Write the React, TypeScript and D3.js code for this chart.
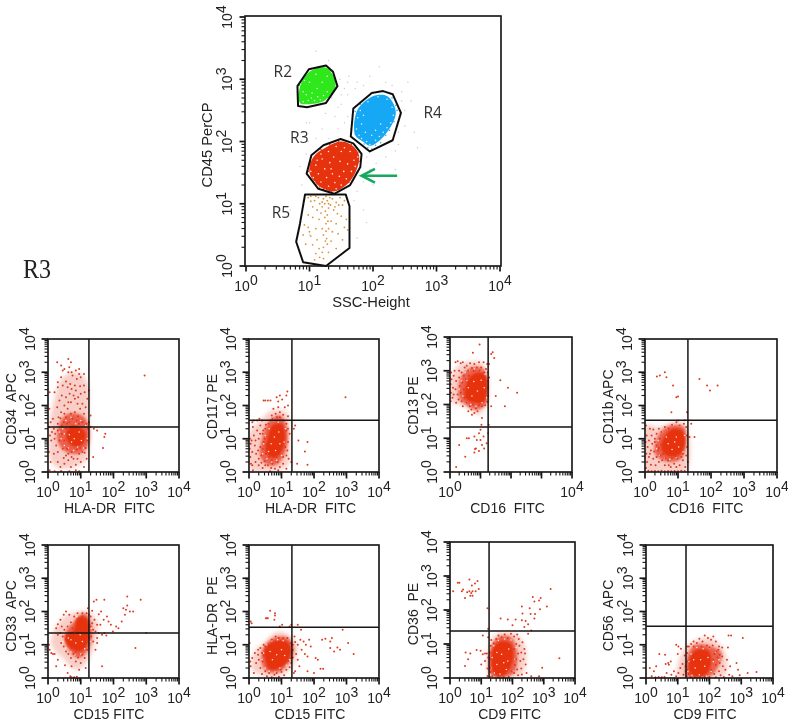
import React from "react";
import * as d3 from "d3";

type P = number[];
// All values are log10 intensity (decades 0..4).
const DECADES = [0, 1, 2, 3, 4];

const gateR2: P[] = [[.81,2.89],[.99,3.16],[1.26,3.22],[1.37,3.12],[1.44,2.89],[1.26,2.62],[.96,2.55],[.82,2.57]];
const gateR3: P[] = [[.955,1.485],[1.03,1.78],[1.22,1.94],[1.49,2.04],[1.69,1.97],[1.82,1.80],[1.80,1.59],[1.64,1.30],[1.39,1.16],[1.14,1.24]];
const gateR4: P[] = [[1.65,2.08],[1.69,2.53],[1.98,2.78],[2.16,2.81],[2.31,2.76],[2.44,2.46],[2.31,2.02],[1.95,1.84],[1.80,1.96]];
const gateR5: P[] = [[.93,1.15],[1.57,1.15],[1.63,.96],[1.63,.29],[1.26,0],[.90,.06],[.79,.39],[.85,.68]];

const coreR2: P[] = [[.85,2.88],[1.0,3.12],[1.25,3.19],[1.35,3.1],[1.41,2.89],[1.24,2.66],[.97,2.6],[.85,2.62]];
const coreR3: P[] = [[1.0,1.5],[1.06,1.75],[1.25,1.9],[1.5,2.0],[1.68,1.93],[1.78,1.78],[1.76,1.6],[1.62,1.34],[1.4,1.2],[1.17,1.27]];
const coreR4: P[] = [[1.72,2.1],[1.75,2.5],[1.98,2.72],[2.15,2.75],[2.26,2.7],[2.36,2.46],[2.2,2.12],[1.96,1.93],[1.84,2.0]];

const specksR2: P[] = [[.9,2.64],[.98,2.66],[1.03,2.7],[1.08,2.66],[1.13,2.72],[1.17,2.67],[1.22,2.74],[.95,2.75],[.9,2.8],[1.04,2.78],[1.28,2.8],[1.12,2.85],[1.2,2.95],[1.0,2.95],[.92,2.98],[1.28,3.05],[1.1,3.08]];
const specksR3: P[] = [[1.02,1.52],[1.06,1.42],[1.1,1.62],[1.14,1.48],[1.18,1.35],[1.2,1.72],[1.24,1.56],[1.27,1.42],[1.3,1.28],[1.32,1.66],[1.36,1.48],[1.4,1.34],[1.42,1.24],[1.47,1.44],[1.5,1.3],[1.54,1.52],[1.58,1.4],[1.6,1.64],[1.66,1.52],[1.7,1.7],[1.72,1.6],[1.64,1.84],[1.55,1.9],[1.42,1.92],[1.3,1.84],[1.18,1.8],[1.12,1.7],[1.38,1.75],[1.48,1.68],[1.25,1.22],[1.08,1.35],[1.5,1.84],[1.34,1.56],[1.76,1.75]];
const specksR4: P[] = [[1.74,2.2],[1.76,2.38],[1.78,2.1],[1.82,2.28],[1.82,2.05],[1.88,2.15],[1.9,2.0],[1.95,1.95],[1.98,2.1],[2.04,2.02],[2.1,2.08],[2.16,2.15],[2.22,2.22],[2.28,2.3],[2.32,2.42],[2.3,2.55],[2.22,2.68],[2.08,2.72],[1.92,2.64],[1.8,2.5],[1.85,2.42],[2.04,2.18],[2.12,2.28]];
const dotsR2: P[] = [[.85,2.66],[.84,2.78],[.84,2.9],[.92,3.05],[1.3,2.72],[1.34,2.8],[1.4,2.95],[1.33,3.14],[1.12,3.18],[.98,3.14]];
const dotsR3: P[] = [[.98,1.52],[1.02,1.66],[1.0,1.42],[1.08,1.72],[1.1,1.3],[1.16,1.27],[1.22,1.23],[1.34,1.19],[1.48,1.25],[1.62,1.34],[1.68,1.45],[1.74,1.5],[1.78,1.68],[1.76,1.82],[1.66,1.95],[1.56,1.98],[1.46,2.0],[1.32,1.95],[1.18,1.87]];
const dotsR4: P[] = [[1.72,2.12],[1.71,2.3],[1.72,2.48],[1.8,2.6],[1.86,1.96],[1.92,1.9],[1.98,1.88],[2.04,1.94],[2.12,1.98],[2.2,2.1],[2.26,2.18],[2.33,2.32],[2.38,2.5],[2.36,2.58],[2.3,2.7]];
const dotsR5: P[] = [[1.02,1.12],[1.08,1.05],[1.14,1.1],[1.2,1.03],[1.26,1.12],[1.3,1.0],[1.36,1.08],[1.42,1.02],[1.48,1.1],[1.52,.98],[1.05,.95],[1.12,.9],[1.2,.95],[1.25,.88],[1.3,.93],[1.38,.9],[1.44,.84],[1.5,.8],[1.58,.75],[.98,.82],[1.05,.78],[1.15,.75],[1.24,.78],[1.34,.72],[1.42,.68],[1.55,.62],[.92,.66],[.98,.62],[1.1,.6],[1.2,.6],[1.26,.56],[1.3,.6],[1.45,.52],[1.6,.58],[.9,.5],[1.02,.48],[1.12,.42],[1.22,.5],[1.27,.44],[1.34,.4],[.94,.35],[1.05,.34],[1.15,.28],[1.22,.3],[1.28,.35],[1.42,.28],[1.1,.2],[1.16,.14],[1.22,.12],[1.08,.1],[1.3,.22],[1.52,.42],[1.16,1.0],[1.22,1.08],[1.28,1.05],[1.33,.98],[1.32,1.1],[1.24,1.0],[1.18,.85],[1.28,.82],[1.02,1.04],[.98,1.1],[1.1,1.12],[1.4,.95],[1.46,.98],[1.55,1.05],[1.26,.68],[1.29,.72],[1.25,.4],[1.2,.22],[1.0,.55],[1.36,.55]];
const dotsGray: P[] = [[1.0,2.3],[1.2,2.2],[1.4,2.4],[1.5,2.6],[1.55,2.85],[1.62,3.05],[1.75,2.95],[1.95,3.05],[2.1,3.2],[2.2,2.95],[1.48,3.0],[1.3,3.3],[1.1,3.45],[.95,2.3],[.75,2.15],[1.1,2.05],[1.3,2.05],[1.45,2.2],[1.55,2.3],[2.45,2.8],[2.6,2.65],[2.5,2.25],[2.65,2.15],[2.4,1.95],[2.55,2.95],[2.2,1.75],[2.05,1.65],[1.9,1.5],[1.85,1.35],[2.0,1.3],[1.75,1.2],[1.7,1.05],[1.85,.9],[1.9,.7],[1.75,.45],[.9,1.05],[.88,1.3],[.95,1.8],[.98,2.0],[.7,.9],[2.7,1.9],[2.35,1.55],[1.6,2.95],[1.35,2.7],[1.5,2.75],[1.0,.5],[1.6,2.4],[1.45,2.55],[1.25,2.45],[1.6,2.75],[1.72,2.85],[1.85,2.9],[2.3,2.9],[2.45,2.65],[2.5,2.5],[2.4,2.15],[2.35,1.85],[1.9,1.75],[1.95,1.55],[.85,1.6],[.9,2.15],[1.65,2.2]];

const arrowLine: P[] = [[2.38,1.45],[1.85,1.45]];
const arrowHead: P[] = [[2.03,1.56],[1.82,1.45],[2.03,1.34]];
const gateNames = ["R2","R3","R4","R5"];
const gateLabelAt: P[] = [[.58,3.04],[.84,1.98],[2.94,2.38],[.55,.77]];

const wide1: P[] = [[.1,.3],[.05,1.4],[.2,2.2],[.45,2.85],[.85,3.0],[1.2,2.7],[1.25,1.8],[1.27,1.0],[1.2,.4],[.8,.15],[.4,.1]];
const mid1: P[] = [[.3,.9],[.35,1.45],[.6,1.75],[1.05,1.7],[1.25,1.35],[1.22,.8],[.95,.55],[.55,.6]];
const core1: P[] = [[.55,1.05],[.68,1.38],[1.0,1.33],[1.15,1.15],[1.05,.82],[.75,.78]];
const specks1: P[] = [[.4,1.0],[.45,1.3],[.5,.8],[.55,1.55],[.62,.72],[.7,1.65],[.78,.65],[.85,1.45],[.9,.75],[1.0,1.55],[1.08,.72],[1.15,1.4],[1.2,1.0],[.65,1.12],[.8,1.0],[.95,1.2],[.72,.9],[1.02,.95],[.35,1.2],[.5,1.15]];
const pts1: P[] = [[.05,2.4],[.04,1.9],[.08,1.5],[.03,1.35],[.06,1.1],[.1,.95],[.03,.6],[.08,.3],[.05,.05],[.2,.02],[.4,.03],[.65,.02],[.85,.05],[.95,.02],[.15,1.6],[.18,1.3],[.12,1.2],[.2,1.0],[.25,.8],[.18,.55],[.3,.3],[.38,.15],[.5,.25],[.55,.5],[.62,.35],[.7,.15],[.78,.4],[.85,.22],[1.0,.3],[1.1,.15],[1.18,.4],[.95,.55],[.45,.7],[.35,.95],[.42,1.15],[.3,1.25],[.5,.95],[.58,.7],[.72,.6],[.88,.68],[1.05,.6],[1.15,.72],[1.2,.95],[.3,1.45],[.42,1.4],[.55,1.3],[.48,1.5],[.32,1.65],[.4,1.8],[.55,1.65],[.65,1.5],[.75,1.6],[.88,1.55],[1.05,1.5],[1.18,1.45],[1.22,1.3],[1.3,1.35],[1.4,1.3],[1.5,1.25],[1.75,1.15],[1.72,1.05],[1.68,.72],[1.38,.45],[1.3,1.7],[1.25,1.5],[.6,1.9],[.7,1.75],[.82,1.8],[.92,1.68],[1.1,1.75],[.98,1.9],[.62,2.1],[.5,2.0],[.35,2.15],[.28,1.95],[.42,2.3],[.55,2.25],[.7,2.1],[.82,2.2],[.9,2.05],[1.05,2.05],[1.15,1.95],[1.2,2.2],[1.25,2.45],[1.12,2.4],[1.0,2.35],[.85,2.45],[.72,2.5],[.6,2.55],[.45,2.6],[.3,2.55],[.2,2.4],[.4,2.85],[.55,2.72],[.68,2.65],[.82,2.6],[.98,2.58],[1.1,2.6],[1.0,2.85],[.88,2.8],[.75,2.9],[.62,3.0],[.5,3.1],[.72,3.0],[.85,3.05],[.95,3.1],[.65,3.15],[.7,3.3],[.62,3.4],[.28,3.3],[.4,3.2],[.45,3.05],[.95,2.95],[1.1,2.95],[2.95,2.9],[.3,2.7],[.5,1.75],[.78,2.3],[.66,2.35],[.92,2.25],[.38,1.62],[.58,1.45],[.95,1.45],[.22,1.15],[.98,.72],[1.12,.58],[.62,.55],[.72,.45],[.48,.42],[.3,.6],[.9,.4]];
const wide2: P[] = [[.05,.1],[.02,1.2],[.3,1.5],[.7,1.85],[1.15,1.8],[1.25,1.0],[1.2,.2],[.7,.02]];
const mid2: P[] = [[.35,.45],[.4,1.0],[.6,1.5],[.95,1.7],[1.18,1.3],[1.15,.7],[.9,.25],[.6,.2]];
const core2: P[] = [[.52,.6],[.58,1.05],[.72,1.4],[1.0,1.45],[1.12,1.1],[1.02,.65],[.75,.42]];
const specks2: P[] = [[.42,.55],[.45,.85],[.5,1.1],[.55,.4],[.62,1.3],[.7,.3],[.75,1.55],[.85,.35],[.9,1.5],[1.0,.5],[1.08,.9],[1.12,1.3],[.68,.85],[.82,.65],[.78,1.05],[.92,1.2],[.95,.85],[.6,.62]];
const pts2: P[] = [[.03,1.0],[.05,.85],[.02,.7],[.08,.95],[.1,.6],[.04,.45],[.06,.25],[.12,.05],[.2,.3],[.22,.55],[.18,.8],[.15,1.1],[.25,1.25],[.12,1.35],[.3,1.0],[.35,.75],[.38,.5],[.3,.2],[.42,.12],[.48,.32],[.52,.55],[.58,.2],[.65,.02],[.72,.25],[.8,.1],[.88,.3],[.95,.15],[1.05,.25],[1.15,.1],[1.22,.4],[1.18,.65],[1.2,.9],[1.25,1.15],[1.2,1.3],[1.15,1.45],[1.05,1.55],[.95,1.65],[.85,1.55],[.72,1.6],[.6,1.45],[.5,1.3],[.42,1.15],[.45,.9],[.35,1.4],[.25,1.55],[.15,1.55],[.1,1.5],[.32,1.6],[.4,1.55],[.7,1.7],[.82,1.75],[.95,1.8],[1.05,1.72],[1.2,1.68],[.9,1.95],[.75,1.9],[1.1,1.95],[1.2,2.0],[.9,2.12],[.85,2.25],[.95,2.3],[1.02,2.18],[1.15,2.3],[1.18,2.42],[.45,2.15],[.5,2.15],[.58,2.15],[.66,2.15],[1.42,1.4],[1.38,1.3],[1.52,.95],[1.8,.9],[1.72,.62],[1.8,.22],[1.48,.25],[1.3,.3],[2.97,2.25],[.5,.2],[.62,.45],[.3,.4],[.42,.7],[.48,1.0],[.55,.82],[.38,.28],[.68,.12],[.9,.05],[1.05,.45],[1.12,.75],[.2,.95],[.28,.65],[.1,.2],[.34,1.15],[.44,1.25],[.52,1.42],[.65,1.55],[.86,1.65],[1.0,1.35],[1.15,1.25],[1.15,.5],[.85,.45],[.92,.55],[.7,.35]];
const wide3: P[] = [[.03,2.1],[.05,2.85],[.35,3.2],[1.0,3.25],[1.22,3.0],[1.22,2.1],[.95,1.7],[.5,1.95]];
const mid3: P[] = [[.3,2.2],[.35,2.8],[.7,3.1],[1.1,3.05],[1.22,2.5],[1.18,2.0],[.85,1.85],[.5,2.0]];
const core3: P[] = [[.5,2.2],[.6,2.75],[.92,2.95],[1.18,2.85],[1.22,2.35],[1.08,2.05],[.8,2.05]];
const specks3: P[] = [[.3,2.45],[.38,2.7],[.42,2.25],[.5,2.95],[.55,2.05],[.62,3.0],[.68,2.0],[.8,3.05],[.85,1.95],[1.0,3.0],[1.05,2.05],[1.15,2.9],[1.2,2.2],[.6,2.5],[.72,2.25],[.78,2.68],[.9,2.4],[1.02,2.72],[.55,2.72],[1.12,2.5]];
const pts3: P[] = [[.02,2.1],[.03,2.35],[.02,2.6],[.05,2.75],[.04,2.95],[.08,2.2],[.1,2.5],[.12,2.85],[.15,3.0],[.18,3.25],[.25,3.28],[.3,3.0],[.35,3.22],[.42,3.25],[.48,3.1],[.55,3.15],[.6,3.0],[.66,3.22],[.72,3.08],[.8,3.2],[.88,3.1],[.95,3.25],[1.02,3.1],[1.1,3.25],[1.18,3.05],[1.22,3.2],[1.24,2.95],[.2,2.7],[.3,2.8],[.38,2.95],[.45,2.85],[.52,2.75],[.18,2.45],[.25,2.3],[.32,2.55],[.4,2.65],[.35,2.35],[.45,2.45],[.28,2.15],[.38,2.1],[.48,2.2],[.2,2.05],[.12,2.3],[.42,1.95],[.55,2.05],[.65,1.95],[.75,2.0],[.85,1.88],[.95,1.98],[1.05,1.95],[1.15,1.98],[1.22,2.08],[.6,1.8],[.7,1.85],[.8,1.75],[.9,1.8],[.72,1.7],[.62,2.85],[.78,3.0],[.98,3.0],[1.12,2.95],[1.24,2.7],[1.25,2.5],[1.25,2.25],[1.35,3.5],[1.4,3.55],[1.45,3.38],[.97,3.78],[.75,3.53],[1.65,2.72],[1.9,2.5],[2.2,2.35],[1.5,2.25],[1.8,1.95],[1.35,1.95],[1.28,2.8],[1.28,3.2],[1.27,1.4],[1.05,1.6],[1.03,1.4],[1.0,1.25],[.95,1.15],[.55,1.0],[.62,1.0],[.8,1.05],[.88,.95],[1.0,.95],[1.1,1.05],[1.2,.85],[1.05,.8],[.85,.7],[.95,.62],[.3,.8],[.5,.45],[.2,.15],[.8,.58],[1.12,.7],[1.25,1.15],[.82,.68]];
const wide4: P[] = [[.02,.02],[.02,1.4],[.4,1.35],[.85,1.5],[1.24,1.4],[1.25,.02],[.6,.0]];
const mid4: P[] = [[.3,.55],[.4,1.1],[.75,1.4],[1.18,1.35],[1.24,.85],[1.1,.4],[.7,.3]];
const core4: P[] = [[.5,.68],[.58,1.05],[.85,1.3],[1.12,1.25],[1.22,.9],[1.08,.55],[.72,.47]];
const specks4: P[] = [[.35,.7],[.4,.95],[.45,.5],[.52,1.2],[.6,.42],[.68,1.3],[.75,.38],[.85,1.42],[.95,.42],[1.05,1.38],[1.15,.6],[1.2,1.1],[.7,.85],[.82,.68],[.65,1.05],[.95,1.05],[1.02,.75],[.9,.9]];
const pts4: P[] = [[.03,1.4],[.05,1.1],[.02,.9],[.08,.75],[.04,.55],[.06,.3],[.03,.12],[.1,.04],[.2,.02],[.3,.03],[.4,.02],[.5,.04],[.6,.02],[.7,.03],[.8,.02],[.9,.03],[1.0,.02],[1.1,.04],[1.2,.03],[.15,1.3],[.25,1.28],[.2,1.1],[.12,.95],[.3,1.0],[.22,.85],[.35,.8],[.18,.65],[.28,.62],[.4,.65],[.12,.45],[.25,.4],[.35,.45],[.48,.5],[.18,.22],[.32,.2],[.42,.3],[.52,.35],[.6,.2],[.7,.35],[.78,.15],[.88,.25],[.98,.4],[1.05,.2],[1.15,.35],[1.22,.15],[1.25,.5],[1.27,.75],[1.27,1.1],[1.25,1.35],[1.18,1.45],[1.05,1.4],[.95,1.5],[.82,1.42],[.7,1.3],[.6,1.35],[.5,1.2],[.45,1.0],[.5,.82],[.42,1.3],[.35,1.15],[.55,.55],[.62,.42],[.82,.42],[.92,.48],[1.15,.55],[1.0,1.55],[1.2,1.56],[.36,2.87],[.45,2.9],[.6,3.0],[.65,2.85],[.85,2.6],[.95,2.25],[1.0,2.27],[.8,1.8],[1.27,1.8],[1.65,2.8],[1.88,2.6],[1.97,2.45],[2.2,2.6],[1.4,1.45],[1.35,1.05],[1.5,1.05],[1.3,.3],[.42,.72],[.3,.9],[.15,.55],[.72,.2],[.95,.15],[1.1,.45]];
const wide5: P[] = [[.1,1.0],[.25,1.55],[.6,1.9],[1.2,2.0],[1.5,1.7],[1.45,1.1],[1.2,.5],[.85,.25],[.5,.55]];
const mid5: P[] = [[.55,1.0],[.55,1.4],[.8,1.7],[1.1,1.95],[1.28,1.75],[1.35,1.3],[1.2,.8],[.9,.6]];
const core5: P[] = [[.78,1.42],[.9,1.82],[1.18,1.8],[1.25,1.45],[1.18,.98],[.95,.8],[.6,.98],[.52,1.28]];
const specks5: P[] = [[.45,1.1],[.5,1.35],[.55,.9],[.62,1.55],[.7,.78],[.72,1.72],[.82,.7],[.88,1.85],[1.0,.72],[1.12,.88],[1.28,1.1],[1.32,1.5],[.7,1.15],[.85,1.05],[.98,1.3],[.62,1.2],[.82,1.35],[1.05,1.1]];
const pts5: P[] = [[.05,.85],[.1,.75],[.15,.72],[.2,.72],[.03,1.0],[.25,1.5],[.3,1.62],[.38,1.75],[.42,1.55],[.48,1.9],[.55,2.0],[.65,1.9],[.7,1.68],[.3,1.3],[.38,1.35],[.45,1.25],[.5,1.45],[.4,1.05],[.48,.95],[.55,.8],[.62,.72],[.7,.6],[.78,.72],[.85,.5],[.92,.62],[1.0,.45],[1.05,.7],[1.12,.6],[1.15,.3],[.95,.25],[.72,.35],[.6,.15],[.8,.02],[.72,.02],[.88,.04],[.68,.05],[.25,.35],[.3,.55],[.52,.38],[1.2,.85],[1.05,1.85],[1.18,1.95],[1.22,2.1],[1.25,1.9],[1.3,1.85],[1.35,2.02],[1.4,2.3],[1.48,2.35],[1.42,1.75],[1.5,1.6],[1.55,1.92],[1.62,2.0],[1.72,2.35],[1.7,1.75],[1.8,1.85],[1.85,1.7],[1.92,1.6],[1.98,1.4],[1.72,1.35],[1.78,1.28],[1.65,1.3],[1.55,1.35],[1.45,1.4],[1.38,1.45],[1.32,1.25],[1.38,1.1],[1.5,1.2],[1.3,1.55],[1.35,1.65],[1.6,1.6],[2.08,1.55],[2.15,1.5],[2.25,1.7],[2.35,1.9],[2.38,2.05],[2.42,2.18],[2.3,2.1],[2.5,2.0],[2.6,2.0],[2.83,2.35],[2.42,2.45],[1.5,1.05],[1.45,.85],[3.0,1.35],[2.67,.9],[1.65,.35],[.8,1.85],[.9,1.95],[1.05,1.95],[.75,1.5],[.68,1.35],[.6,1.55],[.55,1.15],[.85,.8],[.72,.9],[1.25,1.6],[1.26,1.2]];
const wide6: P[] = [[.1,.25],[.15,.75],[.5,1.1],[.9,1.4],[1.35,1.2],[1.5,.9],[1.3,.3],[.9,.05],[.5,.05]];
const mid6: P[] = [[.4,.4],[.42,.85],[.75,1.2],[1.2,1.2],[1.38,.85],[1.15,.35],[.85,.15],[.55,.2]];
const core6: P[] = [[.52,.48],[.47,.85],[.82,1.12],[1.18,1.08],[1.3,.8],[1.12,.42],[.8,.25],[.58,.3]];
const specks6: P[] = [[.4,.55],[.45,.75],[.5,.3],[.55,1.0],[.62,.2],[.7,1.12],[.72,.55],[.8,.18],[.88,1.15],[.95,.3],[1.05,1.12],[1.15,.38],[1.25,.55],[1.32,.9],[.65,.8],[.85,.7],[1.0,.85],[1.1,.68]];
const pts6: P[] = [[.05,1.7],[.08,1.65],[.04,.5],[.1,.6],[.18,.75],[.05,.35],[.22,.45],[.3,.55],[.28,.7],[.35,.3],[.4,.75],[.35,.9],[.42,.5],[.45,1.0],[.5,.95],[.28,.85],[.15,.15],[.4,.12],[.5,.2],[.55,.05],[.62,.15],[.7,.02],[.78,.1],[.85,.15],[.92,.04],[1.0,.18],[1.08,.08],[1.15,.25],[1.25,.32],[1.3,.45],[1.38,.15],[1.42,.2],[.6,1.0],[.7,1.15],[.82,1.25],[.92,1.2],[1.05,1.2],[1.18,1.2],[1.28,1.05],[1.35,1.0],[1.42,1.08],[1.35,.85],[1.45,.72],[1.4,1.25],[1.5,1.0],[1.58,1.15],[1.68,1.1],[1.75,1.0],[1.85,1.15],[1.9,.95],[1.62,.85],[1.72,.72],[1.8,.65],[1.5,.55],[1.55,.35],[1.8,.2],[2.05,.6],[2.12,.55],[2.2,.28],[2.28,.28],[2.0,.15],[2.25,1.15],[2.35,1.18],[2.5,1.1],[2.55,1.2],[2.5,.9],[2.62,.8],[2.72,.92],[2.8,.85],[3.05,1.05],[3.22,.72],[2.88,1.45],[1.6,1.45],[1.5,1.6],[1.3,1.6],[1.25,1.55],[.95,1.55],[1.02,1.6],[.52,1.8],[.55,1.8],[.58,1.8],[.65,2.02],[.78,1.75],[.8,1.88],[.8,1.95],[.02,1.05],[.62,.88],[.45,.68],[.98,.25],[1.2,.52],[1.28,.6],[1.35,.62]];
const wide7: P[] = [[1.28,.02],[1.28,.95],[1.5,1.3],[2.1,1.3],[2.42,.85],[2.3,.1],[1.7,.0]];
const mid7: P[] = [[1.3,.1],[1.3,.9],[1.55,1.2],[1.95,1.2],[2.15,.75],[2.05,.15],[1.65,.02]];
const core7: P[] = [[1.36,.2],[1.36,.82],[1.62,1.08],[1.93,1.02],[2.03,.7],[1.93,.3],[1.7,.06],[1.47,.06]];
const specks7: P[] = [[1.32,.3],[1.35,.6],[1.4,.95],[1.42,.15],[1.5,.4],[1.55,1.1],[1.6,.12],[1.65,.7],[1.75,1.15],[1.8,.25],[1.85,.5],[1.95,1.12],[2.0,.2],[2.08,.55],[2.12,.9],[1.5,.75],[1.72,.45],[1.88,.85]];
const pts7: P[] = [[.25,2.8],[.3,2.8],[.62,2.9],[.7,2.72],[.72,2.55],[.8,2.78],[.88,2.85],[.92,2.62],[.1,2.55],[.38,2.55],[.42,2.6],[.55,2.52],[.62,2.55],[.68,2.5],[.72,2.42],[.82,2.55],[.48,2.35],[.65,2.42],[1.2,2.05],[1.22,1.45],[1.05,1.25],[1.22,1.2],[.5,.75],[.65,.72],[.58,.55],[.48,.35],[.85,.82],[.98,.8],[1.05,.7],[1.12,.72],[1.18,.72],[1.0,.4],[1.12,.5],[1.2,.28],[1.22,.6],[1.2,.06],[1.28,.03],[1.3,.3],[1.3,.55],[1.28,.75],[1.3,.95],[1.32,1.12],[1.4,1.02],[1.48,1.15],[1.55,1.25],[1.65,1.2],[1.75,1.28],[1.85,1.18],[1.95,1.3],[2.05,1.22],[2.15,1.28],[2.2,1.15],[2.12,1.0],[2.22,.95],[2.32,1.05],[2.38,.85],[2.28,.75],[2.18,.72],[2.4,.72],[2.12,.55],[2.25,.5],[2.35,.55],[2.42,.4],[2.15,.25],[2.28,.28],[2.05,.15],[2.18,.08],[2.3,.1],[1.35,.05],[1.55,.03],[1.72,.03],[1.88,.04],[2.45,.15],[2.6,.05],[2.85,.05],[2.95,.3],[3.5,.58],[2.5,1.3],[2.6,1.4],[2.38,1.5],[2.5,1.58],[2.42,1.68],[2.3,1.7],[2.32,1.9],[2.58,1.88],[2.7,1.75],[2.72,1.88],[2.3,2.1],[2.55,2.05],[2.7,2.25],[2.85,2.28],[2.88,2.02],[2.9,2.35],[3.1,2.1],[3.22,2.62],[2.65,2.38],[2.1,1.72],[1.62,1.75],[1.85,1.72],[2.0,1.55],[2.05,.85],[1.3,.18],[1.98,.2],[2.08,.38]];
const wide8: P[] = [[1.0,.02],[1.1,.7],[1.4,1.05],[2.0,1.2],[2.45,.85],[2.5,.1],[1.8,.0]];
const mid8: P[] = [[1.28,.05],[1.3,.65],[1.55,1.0],[2.05,.95],[2.38,.75],[2.1,.1],[1.6,.02]];
const core8: P[] = [[1.38,.15],[1.38,.6],[1.6,.85],[1.98,.8],[2.05,.45],[1.88,.1],[1.55,.03]];
const specks8: P[] = [[1.32,.2],[1.35,.5],[1.42,.72],[1.45,.08],[1.55,.3],[1.6,.92],[1.68,.1],[1.72,.55],[1.8,.88],[1.9,.05],[1.95,.62],[2.05,.2],[2.12,.5],[2.2,.78],[2.3,.55],[1.5,.55],[1.85,.35],[2.0,.9]];
const pts8: P[] = [[.3,.02],[.4,.03],[.5,.02],[.58,.03],[.25,.2],[.12,.3],[.32,.35],[.18,.05],[.65,.15],[.72,.4],[.8,.1],[.88,.2],[.6,.7],[.42,.72],[.7,.45],[.78,.5],[.62,.42],[.95,.05],[1.02,.15],[1.08,.3],[1.15,.42],[1.0,.72],[.95,1.0],[1.02,.95],[1.1,.88],[1.22,.68],[1.25,.35],[1.18,.1],[1.28,.05],[1.3,.25],[1.3,.5],[1.3,.75],[1.35,.95],[1.42,1.02],[1.5,1.1],[1.6,1.05],[1.68,1.18],[1.78,1.1],[1.85,1.28],[1.95,1.2],[2.05,1.15],[2.12,1.25],[1.92,.98],[2.1,.98],[2.2,1.1],[2.3,.95],[2.22,.8],[2.32,.7],[2.4,.65],[2.25,.62],[2.15,.72],[2.28,.85],[2.4,.92],[2.58,.92],[2.6,1.28],[2.68,1.28],[3.05,1.2],[2.12,.55],[2.2,.4],[2.32,.45],[2.42,.35],[2.5,.25],[2.3,.2],[2.15,.12],[2.05,.25],[1.4,.03],[1.55,.02],[1.7,.03],[1.85,.04],[2.0,.03],[2.2,.02],[2.35,.08],[2.45,.03],[2.62,.1],[2.72,.05],[2.95,.08],[2.9,.25],[2.85,.45],[3.2,.15],[3.48,.18],[2.65,.35],[2.55,.55],[1.3,.95],[1.5,.95],[1.75,.95],[2.0,.92],[1.25,.2],[1.92,.2],[1.35,.12]];

const panelNames = ["CD34  APC","CD117 PE","CD13 PE","CD11b APC","CD33  APC","HLA-DR  PE","CD36  PE","CD56  APC"];
const panelXNames = ["HLA-DR  FITC","HLA-DR  FITC","CD16  FITC","CD16  FITC","CD15 FITC","CD15 FITC","CD9 FITC","CD9 FITC"];
const panelPts = [pts1,pts2,pts3,pts4,pts5,pts6,pts7,pts8];
const panelCore = [core1,core2,core3,core4,core5,core6,core7,core8];
const panelMid = [mid1,mid2,mid3,mid4,mid5,mid6,mid7,mid8];
const panelWide = [wide1,wide2,wide3,wide4,wide5,wide6,wide7,wide8];
const panelSpecks = [specks1,specks2,specks3,specks4,specks5,specks6,specks7,specks8];
const crossX = [1.25,1.32,1.25,1.30,1.25,1.32,1.25,1.26];
const crossY = [1.35,1.56,1.33,1.56,1.35,1.53,1.38,1.56];
const xTickSets = [DECADES,DECADES,[0,4],DECADES,DECADES,DECADES,DECADES,DECADES];

// layout: left, right, top, bottom, x-title centre, x-title baseline, y-title baseline, y-title centre
const frames = [
  [48,179,339,472,109.5,512.5,16,409],
  [249,379,339,472,310.5,512.5,216.7,406.7],
  [450,572,337,472,507.5,512.5,417.7,405.7],
  [645,777,339,472,706,512.5,612.7,406.7],
  [48,179,545,678,109,719,16,616],
  [249,379,545,678,310,719,216.7,615.7],
  [450,575,542,678,509.7,719,417.7,614],
  [646,773,545,678,705,719,612.7,615.5],
];
const FONT = "'Liberation Sans', Arial, sans-serif";
const INK = "#141414";

function Axes({ x, y, l, r, t, b, xTicks, sizeMajor }: any) {
  const minors = DECADES.slice(0, 4).flatMap((d) => d3.range(2, 10).map((k) => d + Math.log10(k)));
  return (
    <g>
      {minors.map((m, i) => (
        <g key={i} stroke={INK} strokeWidth={1.1}>
          <line x1={x(m)} x2={x(m)} y1={b} y2={b + 3.5} />
          <line y1={y(m)} y2={y(m)} x1={l} x2={l - 3.5} />
        </g>
      ))}
      {DECADES.map((d) => (
        <g key={d} stroke={INK} strokeWidth={1.7}>
          <line x1={x(d)} x2={x(d)} y1={b} y2={b + sizeMajor} />
          <line y1={y(d)} y2={y(d)} x1={l} x2={l - sizeMajor} />
        </g>
      ))}
      <rect x={l} y={t} width={r - l} height={b - t} fill="none" stroke={INK} strokeWidth={1.6} />
      <g fontFamily={FONT} fontSize={14} fill="#222">
        {xTicks.map((d: number) => (
          <text key={d} x={x(d)} y={b + 25} textAnchor="middle">10<tspan dy={-6.5}>{d}</tspan></text>
        ))}
        {DECADES.map((d) => (
          <text key={d} transform={`translate(${l - 13},${y(d)}) rotate(-90)`} textAnchor="middle">10<tspan dy={-6.5}>{d}</tspan></text>
        ))}
      </g>
    </g>
  );
}

const Dots = ({ pts, x, y, fill, r = 0.85, opacity = 1 }: any) => (
  <g fill={fill} opacity={opacity}>
    {pts.map((p: P, i: number) => <circle key={i} cx={x(p[0])} cy={y(p[1])} r={r} />)}
  </g>
);

function Panel({ i }: { i: number }) {
  const [l, r, t, b, xc, xb, yb, yc] = frames[i];
  const x = d3.scaleLinear().domain([0, 4]).range([l, r]);
  const y = d3.scaleLinear().domain([0, 4]).range([b, t]);
  const area = d3.line<P>().x((p) => x(p[0])).y((p) => y(p[1])).curve(d3.curveCatmullRomClosed);
  return (
    <g>
      <clipPath id={`clip${i}`}><rect x={l} y={t} width={r - l} height={b - t} /></clipPath>
      <g clipPath={`url(#clip${i})`}>
        <path d={area(panelWide[i]) || ""} fill="#e8604a" opacity={0.3} filter="url(#blur3)" />
        <path d={area(panelMid[i]) || ""} fill="#e6361a" opacity={0.72} filter="url(#blur2)" />
        <path d={area(panelCore[i]) || ""} fill="#e6300f" filter="url(#blur1)" />
        <Dots pts={panelSpecks[i]} x={x} y={y} fill="#fdeee8" r={0.75} />
        <Dots pts={panelPts[i]} x={x} y={y} fill="#df3a20" r={1} />
      </g>
      <line x1={x(crossX[i])} x2={x(crossX[i])} y1={t} y2={b} stroke={INK} strokeWidth={1.5} />
      <line x1={l} x2={r} y1={y(crossY[i])} y2={y(crossY[i])} stroke={INK} strokeWidth={1.5} />
      <Axes x={x} y={y} l={l} r={r} t={t} b={b} xTicks={xTickSets[i]} sizeMajor={6.5} />
      <g fontFamily={FONT} fontSize={14} fill="#222">
        <text x={xc} y={xb} textAnchor="middle" xmlSpace="preserve">{panelXNames[i]}</text>
        <text transform={`translate(${yb},${yc}) rotate(-90)`} textAnchor="middle" xmlSpace="preserve">{panelNames[i]}</text>
      </g>
    </g>
  );
}

function TopPlot() {
  const l = 246, r = 500, t = 17, b = 266;
  const x = d3.scaleLinear().domain([0, 4]).range([l, r]);
  const y = d3.scaleLinear().domain([0, 4]).range([b, t]);
  const closed = d3.line<P>().x((p) => x(p[0])).y((p) => y(p[1])).curve(d3.curveLinearClosed);
  const soft = d3.line<P>().x((p) => x(p[0])).y((p) => y(p[1])).curve(d3.curveCatmullRomClosed);
  const open = d3.line<P>().x((p) => x(p[0])).y((p) => y(p[1]));
  return (
    <g>
      <Dots pts={dotsGray} x={x} y={y} fill="#b9b9c0" r={0.75} opacity={0.7} />
      <path d={soft(coreR2) || ""} fill="#2de81c" />
      <path d={soft(coreR3) || ""} fill="#e6300f" />
      <path d={soft(coreR4) || ""} fill="#16a8f5" />
      <Dots pts={specksR2} x={x} y={y} fill="#e8fbe4" r={0.75} />
      <Dots pts={specksR3} x={x} y={y} fill="#fdeee8" r={0.8} />
      <Dots pts={specksR4} x={x} y={y} fill="#e6f5fd" r={0.75} />
      <Dots pts={dotsR2} x={x} y={y} fill="#38e428" r={0.8} />
      <Dots pts={dotsR3} x={x} y={y} fill="#df3a20" r={0.8} />
      <Dots pts={dotsR4} x={x} y={y} fill="#2aa8ef" r={0.8} />
      <Dots pts={dotsR5} x={x} y={y} fill="#e0923a" r={0.9} />
      {[gateR2, gateR3, gateR4, gateR5].map((g, i) => (
        <path key={i} d={closed(g) || ""} fill="none" stroke="#111" strokeWidth={2} strokeLinejoin="round" />
      ))}
      <path d={open(arrowLine) || ""} stroke="#18a85c" strokeWidth={2.6} fill="none" />
      <path d={open(arrowHead) || ""} stroke="#18a85c" strokeWidth={2.6} fill="none" />
      {gateNames.map((n, i) => (
        <text key={n} x={x(gateLabelAt[i][0])} y={y(gateLabelAt[i][1])} fontFamily="'Open Sans', sans-serif" fontSize={15.5} fill="#333" textAnchor="middle">{n}</text>
      ))}
      <Axes x={x} y={y} l={l - 1} r={r + 1} t={t - 1} b={b} xTicks={DECADES} sizeMajor={5.5} />
      <g fontFamily={FONT} fontSize={14.7} fill="#222">
        <text x={371} y={306.5} textAnchor="middle">SSC-Height</text>
        <text transform="translate(211.7,145) rotate(-90)" textAnchor="middle">CD45 PerCP</text>
      </g>
    </g>
  );
}

export default function App() {
  return (
    <svg width={788} height={724} viewBox="0 0 788 724" style={{ position: "absolute", left: 0, top: 0, background: "#fff" }}>
      <defs>
        <filter id="soft" x="0" y="0" width="100%" height="100%">
          <feGaussianBlur stdDeviation="0.35" />
        </filter>
        <filter id="blur1" x="-30%" y="-30%" width="160%" height="160%"><feGaussianBlur stdDeviation="1" /></filter>
        <filter id="blur2" x="-30%" y="-30%" width="160%" height="160%"><feGaussianBlur stdDeviation="1.5" /></filter>
        <filter id="blur3" x="-30%" y="-30%" width="160%" height="160%"><feGaussianBlur stdDeviation="2" /></filter>
      </defs>
      <g filter="url(#soft)">
        <TopPlot />
        <text x={23} y={278} fontFamily="'Liberation Serif', serif" fontSize={27} textLength={28} lengthAdjust="spacingAndGlyphs" fill="#222">R3</text>
        {frames.map((_, i) => <Panel key={i} i={i} />)}
      </g>
    </svg>
  );
}
